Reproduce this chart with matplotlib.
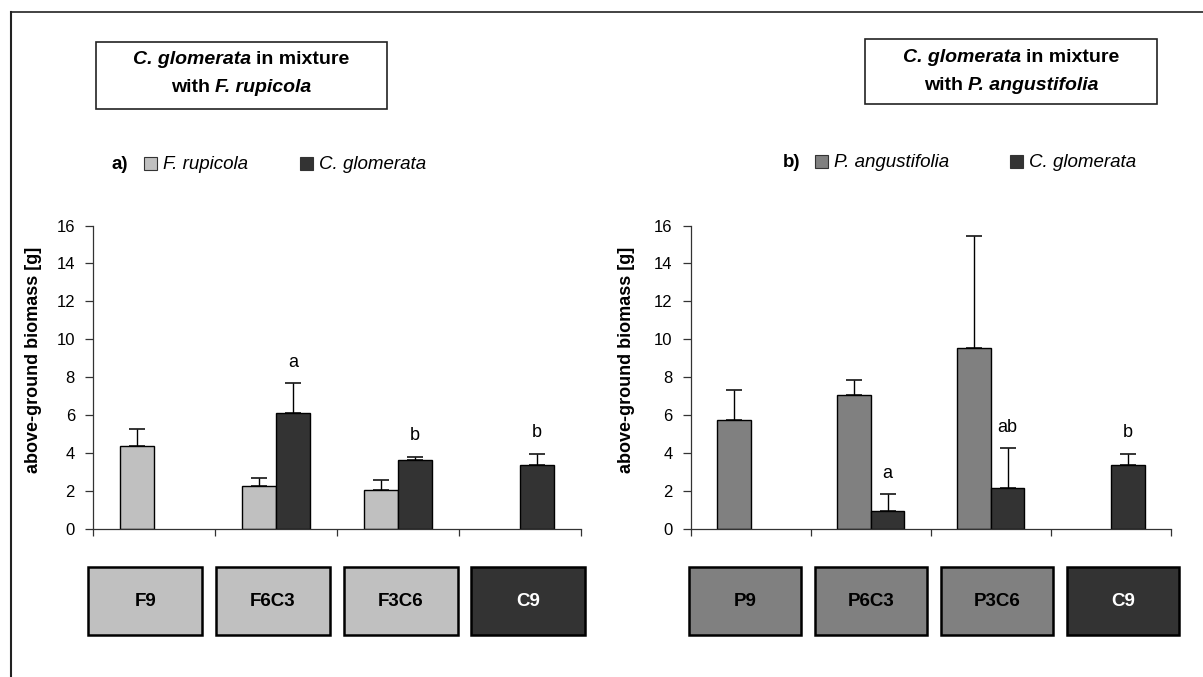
import numpy as np
import matplotlib
matplotlib.use("Agg")
import matplotlib.pyplot as plt
from matplotlib.patches import Rectangle
from matplotlib.lines import Line2D
from matplotlib.transforms import blended_transform_factory

plt.rcParams['font.family'] = ['Liberation Sans', 'DejaVu Sans']

# %% DATA
cats_a = ["F9", "F6C3", "F3C6", "C9"]
frup_mean = [4.4, 2.25, 2.07, np.nan]
frup_err = [0.85, 0.42, 0.53, np.nan]
cglo_a_mean = [np.nan, 6.14, 3.62, 3.35]
cglo_a_err = [np.nan, 1.54, 0.17, 0.61]
letters_a = ["", "a", "b", "b"]

cats_b = ["P9", "P6C3", "P3C6", "C9"]
pang_mean = [5.77, 7.09, 9.56, np.nan]
pang_err = [1.56, 0.77, 5.9, np.nan]
cglo_b_mean = [np.nan, 0.93, 2.14, 3.35]
cglo_b_err = [np.nan, 0.9, 2.11, 0.61]
letters_b = ["", "a", "ab", "b"]

C_FRUP = "#c0c0c0"
C_PANG = "#808080"
C_CGLO = "#333333"

# %% FIGURE (layout in pixels of the 1203x677 canvas)
W, H = 1203, 677
fig = plt.figure(figsize=(W / 100, H / 100), dpi=100)


def fx(x):
    return x / W


def fy(y):
    return 1 - y / H


# outer frame (only top and left edges are visible)
fig.add_artist(Line2D([fx(11), fx(11)], [0, fy(12)], color="#222222", lw=1.5))
fig.add_artist(Line2D([fx(11), 1], [fy(12), fy(12)], color="#222222", lw=1.2))


def mixed_line(pieces, cx, base, size=14, gap=5):
    """One line of (text, style) pieces in bold, centred at pixel x=cx."""
    r = fig.canvas.get_renderer()
    texts, widths = [], []
    for s, style in pieces:
        t = fig.text(0, 0, s, fontsize=size, style=style, weight="bold",
                     va="baseline", ha="left")
        widths.append(t.get_window_extent(renderer=r).width)
        texts.append(t)
    x = cx - (sum(widths) + gap * (len(pieces) - 1)) / 2
    for t, w in zip(texts, widths):
        t.set_position((fx(x), fy(base)))
        x += w + gap


def title_box(x0, y0, x1, y1, species, b1, b2):
    fig.add_artist(Rectangle((fx(x0), fy(y1)), fx(x1 - x0), (y1 - y0) / H,
                             transform=fig.transFigure, fill=False,
                             ec="#222222", lw=1.2))
    cx = (x0 + x1) / 2
    mixed_line([("C. glomerata", "italic"), ("in mixture", "normal")], cx, b1)
    mixed_line([("with", "normal"), (species, "italic")], cx, b2)


title_box(96, 42, 387, 109, "F. rupicola", 64, 92)
title_box(865, 39, 1157, 104, "P. angustifolia", 62, 90)


def legend_row(tag, tag_x, base, entries):
    fig.text(fx(tag_x), fy(base), tag, fontsize=13.5, weight="bold",
             va="baseline", ha="left")
    for sx, col, name in entries:
        fig.add_artist(Rectangle((fx(sx), fy(base + 1)), fx(13), 13 / H,
                                 transform=fig.transFigure, fc=col,
                                 ec="#333333", lw=0.8))
        fig.text(fx(sx + 19), fy(base), name, fontsize=13.5, style="italic",
                 va="baseline", ha="left")


legend_row("a)", 111, 169, [(144, C_FRUP, "F. rupicola"),
                            (300, C_CGLO, "C. glomerata")])
legend_row("b)", 783, 167, [(815, C_PANG, "P. angustifolia"),
                            (1010, C_CGLO, "C. glomerata")])


def panel(x0, x1, cats, sp_mean, sp_err, sp_col, cg_mean, cg_err, letters,
          lab_x, box_c0):
    y0, y16 = 529, 225.5
    ax = fig.add_axes([fx(x0), fy(y0), fx(x1 - x0), (y0 - y16) / H])
    x = np.arange(len(cats))
    w = 0.28
    ekw = dict(ecolor="black", elinewidth=1.0, capsize=5.5, capthick=1.1)
    ax.bar(x - w / 2, sp_mean, w, color=sp_col, edgecolor="black", lw=1.0,
           yerr=[np.zeros(len(x)), sp_err], error_kw=ekw, zorder=2)
    ax.bar(x + w / 2, cg_mean, w, color=C_CGLO, edgecolor="black", lw=1.0,
           yerr=[np.zeros(len(x)), cg_err], error_kw=ekw, zorder=2)
    for i, l in enumerate(letters):
        if l:
            ax.annotate(l, (x[i] + w / 2, cg_mean[i] + cg_err[i]),
                        xytext=(0, 12), textcoords="offset points",
                        ha="center", va="baseline", fontsize=13)
    ax.set_xlim(-0.5, len(cats) - 0.5)
    ax.set_ylim(0, 16)
    ax.set_yticks(np.arange(0, 17, 2))
    ax.set_xticks(np.arange(len(cats) + 1) - 0.5)
    ax.set_xticklabels([])
    ax.tick_params(axis="y", direction="out", length=6, width=0.9,
                   labelsize=12, pad=7, color="#333333")
    ax.tick_params(axis="x", direction="out", length=5, width=0.9,
                   color="#333333")
    for s in ["top", "right"]:
        ax.spines[s].set_visible(False)
    for s in ["left", "bottom"]:
        ax.spines[s].set_linewidth(0.9)
        ax.spines[s].set_color("#333333")
    ax.set_ylabel("above-ground biomass [g]", fontsize=13, weight="bold")
    ax.yaxis.set_label_coords(lab_x, 0.556)

    # treatment boxes below the axis
    tr = blended_transform_factory(ax.transAxes, fig.transFigure)
    bw = 0.234
    for i, c in enumerate(cats):
        cc = box_c0 + i * 0.262
        is_c = c.startswith("C")
        ax.add_artist(Rectangle((cc - bw / 2, fy(635)), bw, 68 / H,
                                transform=tr, fc=C_CGLO if is_c else sp_col,
                                ec="black", lw=1.8, clip_on=False))
        ax.text(cc, fy(601), c, transform=tr, ha="center", va="center",
                fontsize=13.5, weight="bold",
                color="white" if is_c else "black")
    return ax


panel(93, 580.5, cats_a, frup_mean, frup_err, C_FRUP, cglo_a_mean,
      cglo_a_err, letters_a, -0.105, 0.107)
panel(690.5, 1171, cats_b, pang_mean, pang_err, C_PANG, cglo_b_mean,
      cglo_b_err, letters_b, -0.116, 0.114)

fig.savefig("out.png", dpi=100)
